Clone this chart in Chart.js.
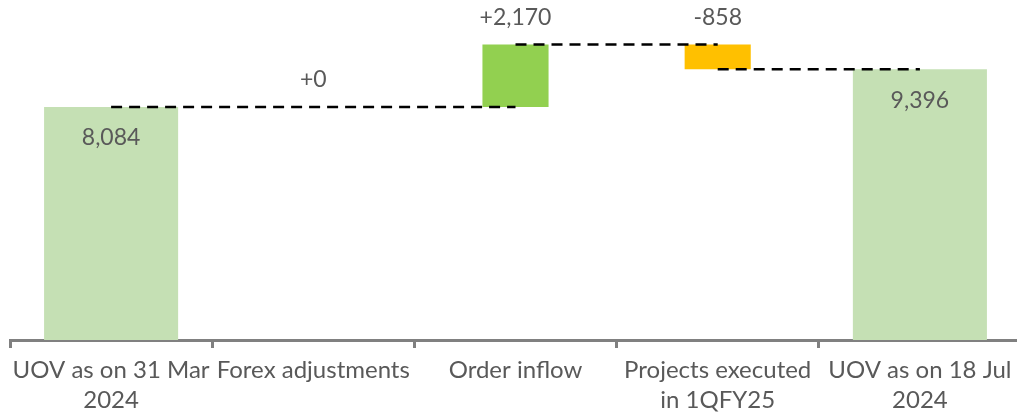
<!DOCTYPE html>
<html>
<head>
<meta charset="utf-8">
<script src="https://cdn.jsdelivr.net/npm/chart.js@4"></script>
<style>
  html, body { margin: 0; padding: 0; background: #fff; overflow: hidden; }
  #wrap { width: 1022px; height: 422px; position: relative; }
</style>
</head>
<body>
<div id="wrap"><canvas id="waterfall"></canvas></div>
<script>
const categories = [
  ['UOV as on 31 Mar', '2024'],
  'Forex adjustments',
  'Order inflow',
  ['Projects executed', 'in 1QFY25'],
  ['UOV as on 18 Jul', '2024']
];
const values = [8084, 0, 2170, -858, 9396];
const isTotal = [true, false, false, false, true];
const valueLabels = ['8,084', '+0', '+2,170', '-858', '9,396'];

// running levels for the floating bars
let level = 0;
const totalBars = [];
const deltaBars = [];
const deltaColors = [];
const endLevels = [];
values.forEach((v, i) => {
  if (isTotal[i]) {
    level = v;
    totalBars.push([0, v]);
    deltaBars.push(null);
    deltaColors.push('#92d050');
  } else {
    deltaBars.push([level, level + v]);
    level += v;
    totalBars.push(null);
    deltaColors.push(v < 0 ? '#ffc000' : '#92d050');
  }
  endLevels.push(level);
});

// dashed connectors, merged when the level does not change
const connectors = [];
let seg = null;
for (let i = 0; i < values.length - 1; i++) {
  if (seg && seg.level === endLevels[i]) {
    seg.to = i + 1;
  } else {
    seg = { level: endLevels[i], from: i, to: i + 1 };
    connectors.push(seg);
  }
}
const connectorSets = connectors.map(s => ({
  type: 'line',
  data: values.map((_, i) => (i >= s.from && i <= s.to ? s.level : null)),
  borderColor: '#000',
  borderWidth: 2.5,
  borderDash: [11, 7],
  pointRadius: 0,
  fill: false,
  order: 0
}));

const valueLabelPlugin = {
  id: 'valueLabels',
  afterDatasetsDraw(chart) {
    const ctx = chart.ctx;
    const totMeta = chart.getDatasetMeta(0);
    const delMeta = chart.getDatasetMeta(1);
    ctx.save();
    ctx.font = '23px Lato';
    ctx.fillStyle = '#595959';
    ctx.textAlign = 'center';
    ctx.textBaseline = 'middle';
    values.forEach((v, i) => {
      if (isTotal[i]) {
        const el = totMeta.data[i];
        ctx.fillText(valueLabels[i], el.x, el.y + 31);
      } else {
        const el = delMeta.data[i];
        const top = Math.min(el.y, el.base);
        ctx.fillText(valueLabels[i], el.x, top - 27);
      }
    });
    ctx.restore();
  }
};

new Chart(document.getElementById('waterfall'), {
  type: 'bar',
  data: {
    labels: categories,
    datasets: [
      {
        data: totalBars,
        backgroundColor: '#c5e0b4',
        barPercentage: 0.663,
        categoryPercentage: 1,
        grouped: false,
        order: 1
      },
      {
        data: deltaBars,
        backgroundColor: deltaColors,
        barPercentage: 0.327,
        categoryPercentage: 1,
        grouped: false,
        order: 1
      },
      ...connectorSets
    ]
  },
  options: {
    responsive: true,
    maintainAspectRatio: false,
    animation: false,
    layout: { padding: { left: 10, right: 1, top: 0, bottom: 0 } },
    plugins: {
      legend: { display: false },
      tooltip: { enabled: false }
    },
    scales: {
      x: {
        grid: {
          display: true,
          drawOnChartArea: false,
          drawTicks: true,
          tickLength: 8,
          color: '#808080',
          lineWidth: 3
        },
        border: { display: true, color: '#808080', width: 3 },
        ticks: {
          color: '#595959',
          font: { family: 'Lato', size: 24, lineHeight: 1.25 },
          padding: 7,
          maxRotation: 0,
          autoSkip: false
        }
      },
      y: {
        display: false,
        min: 0,
        max: 11800
      }
    }
  },
  plugins: [valueLabelPlugin]
});
</script>
</body>
</html>
